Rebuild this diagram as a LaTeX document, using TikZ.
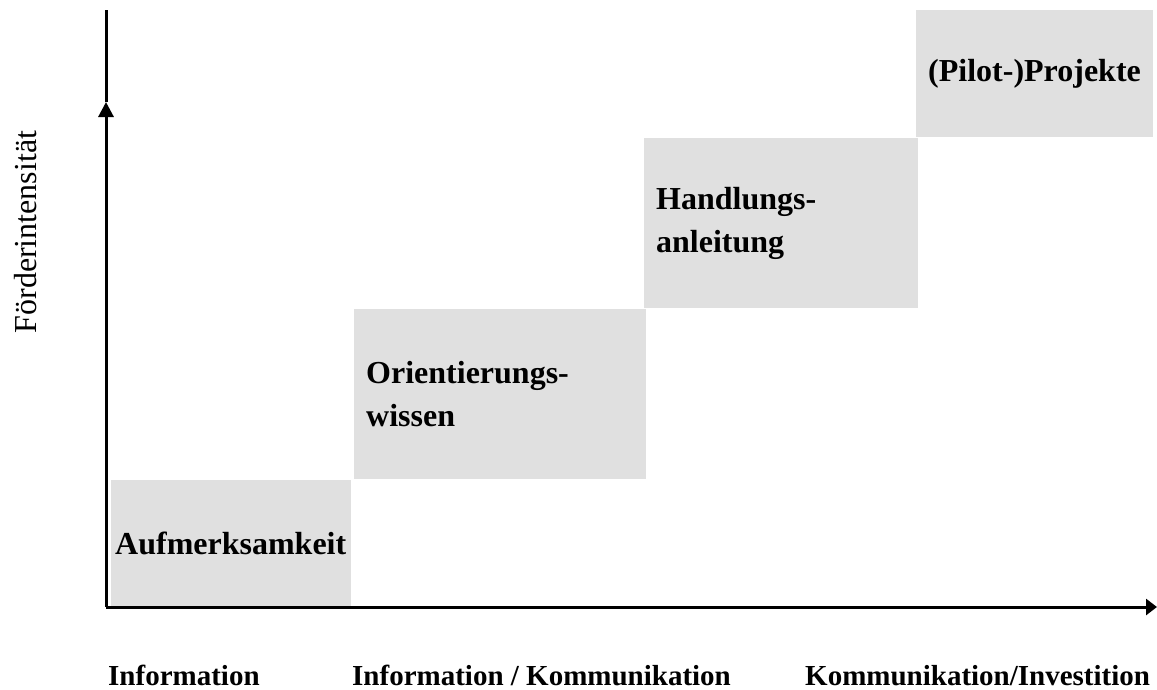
\documentclass[tikz,border=0pt]{standalone}
\usepackage{fontspec}
\setmainfont{Liberation Serif}
\usepackage{tikz}
\usetikzlibrary{positioning, arrows.meta}
\definecolor{StufeGrau}{RGB}{224,224,224}

\tikzset{
  stufe/.style={fill=StufeGrau, draw=none, anchor=north west, inner xsep=12pt,
                inner ysep=0pt, align=left,
                font=\fontsize{32}{43}\selectfont\bfseries},
  achse/.style={line width=3pt, black},
  achstext/.style={font=\fontsize{29}{34}\selectfont\bfseries, anchor=base west,
                   inner sep=0pt}
}

\begin{document}
\begin{tikzpicture}[x=1pt, y=-1pt]
  \useasboundingbox (0,0) rectangle (1157,689);

  % Stufen
  \node[stufe, text width=232pt, inner xsep=4pt, minimum height=127pt] (auf) at (111,480) {Aufmerksamkeit};
  \node[stufe, text width=268pt, minimum height=170pt] (ori) at (354,309) {Orientierungs-\\wissen};
  \node[stufe, text width=250pt, minimum height=170pt] (hand) at (644,138) {Handlungs-\\anleitung};
  \node[stufe, text width=213pt, minimum height=127pt] (pilot) at (916,10) {(Pilot-)Projekte};

  % Achsen
  \coordinate (o) at (106,607);
  \coordinate (ypfeil) at (106,102);
  \coordinate (yende) at (106,10);
  \coordinate (xende) at (1157,607);
  \draw[achse] (ypfeil) -- (yende);
  \draw[achse, -{Triangle[length=15pt, width=15pt]}] (o) -- (ypfeil);
  \draw[achse, -{Triangle[length=11pt, width=16pt]}] (o) -- (xende);

  % Beschriftung
  \node[rotate=90, font=\fontsize{32}{38}\selectfont, anchor=base] (foerd) at (36,232) {Förderintensität};
  \node[achstext] (info) at (108,685) {Information};
  \node[achstext] (infokom) at (352,685) {Information / Kommunikation};
  \node[achstext] (kominv) at (805,685) {Kommunikation/Investition};
\end{tikzpicture}
\end{document}
